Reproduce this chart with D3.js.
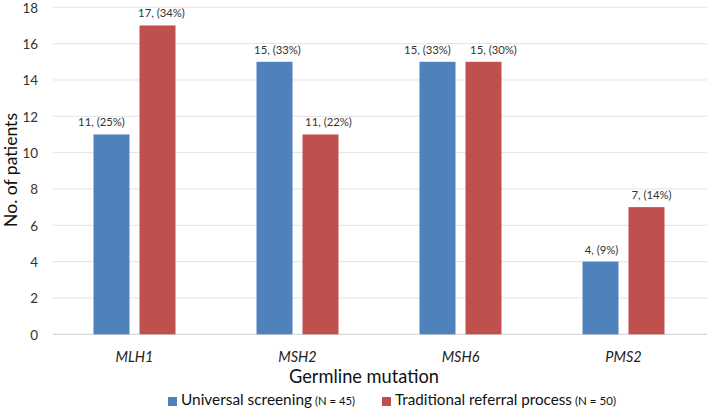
<!DOCTYPE html>
<html>
<head>
<meta charset="utf-8">
<script src="https://cdn.jsdelivr.net/npm/d3@7/dist/d3.min.js"></script>
<style>
  html, body { margin: 0; padding: 0; background: #fff; }
  svg { display: block; }
  text { font-family: Lato, "Open Sans", sans-serif; }
</style>
</head>
<body>
<svg id="chart" width="709" height="410"></svg>
<script>
// ---- data ----
const categories = ["MLH1", "MSH2", "MSH6", "PMS2"];
const seriesNames = ["Universal screening", "Traditional referral process"];
const seriesN = ["(N = 45)", "(N = 50)"];
const universalCounts = [11, 15, 15, 4];
const universalPct = [25, 33, 33, 9];
const traditionalCounts = [17, 11, 15, 7];
const traditionalPct = [34, 22, 30, 14];
const yTicks = [0, 2, 4, 6, 8, 10, 12, 14, 16, 18];

// ---- layout / style ----
const colors = ["#4f81bd", "#c0504d"];
const plotLeft = 53, plotRight = 705, plotTop = 7.3, plotBottom = 334.3;
const labelNudge = [[-10, 4], [3, 8], [-10, 10], [1, 5]];

const svg = d3.select("#chart");

function fit(sel, target) {
  sel.each(function () {
    const el = this;
    const fs = parseFloat(el.getAttribute("font-size"));
    const w = el.getComputedTextLength();
    if (w > 0) el.setAttribute("font-size", (fs * target / w).toFixed(2));
  });
}

const x0 = d3.scaleBand().domain(categories).range([plotLeft, plotRight]).padding(0);
const groupW = 82;
const x1 = d3.scaleBand().domain([0, 1])
  .range([(x0.bandwidth() - groupW) / 2, (x0.bandwidth() + groupW) / 2])
  .paddingInner(10 / 46).paddingOuter(0);
const y = d3.scaleLinear().domain([0, 18]).range([plotBottom, plotTop]);

// gridlines
svg.append("g").selectAll("line").data(yTicks).join("line")
  .attr("x1", plotLeft).attr("x2", 707)
  .attr("y1", d => y(d)).attr("y2", d => y(d))
  .attr("stroke", d => d === 0 ? "#d0d0d0" : "#e3e3e3")
  .attr("stroke-width", 1);

// y tick labels via axis
const yAxis = d3.axisLeft(y).tickValues(yTicks).tickSize(0).tickPadding(0);
const yg = svg.append("g").attr("transform", `translate(38,0)`).call(yAxis);
yg.select(".domain").remove();
yg.selectAll("text")
  .attr("font-family", "Lato, sans-serif")
  .attr("font-size", 15)
  .attr("fill", "#333")
  .attr("dy", "0.36em");
const t18 = yg.selectAll("text").filter(d => d === 18).node();
const fsTick = 15 * 15.6 / t18.getComputedTextLength();
yg.selectAll("text").attr("font-size", fsTick.toFixed(2));

// bars
const rows = categories.map((c, i) => ({
  cat: c, i,
  vals: [
    { s: 0, v: universalCounts[i], p: universalPct[i] },
    { s: 1, v: traditionalCounts[i], p: traditionalPct[i] }
  ]
}));

const groups = svg.append("g").selectAll("g").data(rows).join("g")
  .attr("transform", d => `translate(${x0(d.cat)},0)`);

groups.selectAll("rect").data(d => d.vals).join("rect")
  .attr("x", d => x1(d.s))
  .attr("width", x1.bandwidth())
  .attr("y", d => y(d.v))
  .attr("height", d => y(0) - y(d.v))
  .attr("fill", d => colors[d.s]);

groups.selectAll("text.lbl").data(d => d.vals.map(v => ({ ...v, ci: d.i }))).join("text")
  .attr("class", "lbl")
  .attr("x", d => x1(d.s) + x1.bandwidth() / 2 + labelNudge[d.ci][d.s])
  .attr("y", d => y(d.v) - 8)
  .attr("text-anchor", "middle")
  .attr("font-family", "'Liberation Sans', Arial, sans-serif")
  .attr("font-size", 11.3)
  .attr("fill", "#333")
  .text(d => `${d.v}, (${d.p}%)`);

// x category labels
const xAxis = d3.axisBottom(x0).tickSize(0).tickPadding(0);
const xg = svg.append("g").attr("transform", `translate(0,362)`).call(xAxis);
xg.select(".domain").remove();
xg.selectAll("text")
  .attr("dy", 0)
  .attr("y", 0)
  .attr("font-family", "Lato, sans-serif")
  .attr("font-style", "italic")
  .attr("font-size", 16)
  .attr("fill", "#222");
const tM = xg.selectAll("text").filter(d => d === "MLH1").node();
const fsCat = 16 * 38 / tM.getComputedTextLength();
xg.selectAll("text").attr("font-size", fsCat.toFixed(2));

// axis titles
svg.append("text")
  .attr("x", 364).attr("y", 383)
  .attr("text-anchor", "middle")
  .attr("font-size", 19).attr("fill", "#111")
  .text("Germline mutation")
  .call(fit, 150);

svg.append("text")
  .attr("transform", "translate(16.5,170) rotate(-90)")
  .attr("text-anchor", "middle")
  .attr("font-size", 19).attr("fill", "#111")
  .text("No. of patients")
  .call(fit, 114);

// legend
const legendItems = [
  { sq: 168, tx: 181, tw: 131, nx: 315, nw: 40 },
  { sq: 382, tx: 395, tw: 177, nx: 575, nw: 41 }
];
legendItems.forEach((L, i) => {
  svg.append("rect").attr("x", L.sq).attr("y", 397).attr("width", 9).attr("height", 9)
    .attr("fill", colors[i]);
  svg.append("text").attr("x", L.tx).attr("y", 405)
    .attr("font-size", 16).attr("fill", "#111")
    .text(seriesNames[i]).call(fit, L.tw);
  svg.append("text").attr("x", L.nx).attr("y", 405)
    .attr("font-size", 11).attr("fill", "#111")
    .text(seriesN[i]).call(fit, L.nw);
});
</script>
</body>
</html>
